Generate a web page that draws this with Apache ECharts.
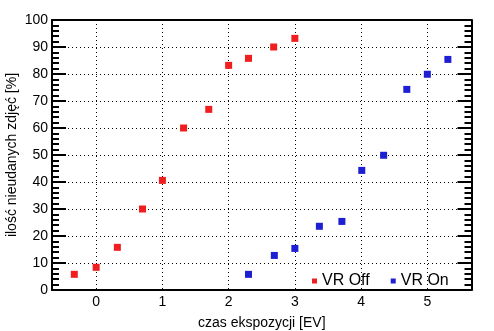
<!DOCTYPE html>
<html><head><meta charset="utf-8">
<script src="https://cdn.jsdelivr.net/npm/echarts@6/dist/echarts.min.js"></script>
<style>html,body{margin:0;padding:0;background:#fff}#c{width:494px;height:331px}</style>
</head><body><div id="c"></div>
<script>
const seriesNames = ['VR Off', 'VR On'];
const vrOffX = [-0.33, 0, 0.32, 0.70, 1.0, 1.32, 1.70, 2.0, 2.30, 2.68, 3.0];
const vrOffY = [5.8, 8.4, 15.8, 30.0, 40.6, 60.0, 66.9, 83.2, 85.8, 90.0, 93.2];
const vrOnX = [2.30, 2.69, 3.0, 3.37, 3.71, 4.01, 4.34, 4.69, 5.0, 5.31];
const vrOnY = [5.8, 12.8, 15.4, 23.6, 25.4, 44.3, 49.9, 74.3, 79.9, 85.4];
const xTickLabels = ['0', '1', '2', '3', '4', '5'];
const xTitle = 'czas ekspozycji [EV]';
const yTitle = 'ilość nieudanych zdjęć [%]';

const font = 'Liberation Sans, Arial, sans-serif';
const zip = (xs, ys) => xs.map((x, i) => [x, ys[i]]);
const chart = echarts.init(document.getElementById('c'));
const dotted = { color: '#000', width: 1, type: [1, 3] };
const yCommon = {
  type: 'value', min: 0, max: 100, interval: 10,
  axisLine: { show: true, onZero: false, lineStyle: { color: '#000', width: 2 } },
  axisTick: { show: true, inside: true, length: 14, lineStyle: { color: '#000', width: 2 } },
  minorTick: { show: true, splitNumber: 5, length: 7, lineStyle: { color: '#000', width: 2 } },
  splitLine: { show: false }
};
chart.setOption({
  animation: false,
  grid: { left: 52, right: 22.5, top: 20, bottom: 41, containLabel: false, outerBoundsMode: 'none' },
  legend: {
    data: seriesNames, left: 307, top: 268, icon: 'rect', itemWidth: 5, itemHeight: 5,
    itemGap: 21, textStyle: { fontFamily: font, fontSize: 16, color: '#000', padding: [0, 0, 0, 0] }
  },
  xAxis: [{
    type: 'value', min: -0.6667, max: 5.6667, splitNumber: 5,
    axisLine: { show: true, onZero: false, lineStyle: { color: '#000', width: 2 } },
    axisTick: { show: false },
    splitLine: { show: true, lineStyle: dotted },
    axisLabel: {
      fontFamily: font, fontSize: 14, color: '#000', margin: 5,
      showMinLabel: false, showMaxLabel: false,
      formatter: v => { const i = Math.round(v); return Math.abs(v - i) < 1e-6 && i >= 0 && i < xTickLabels.length ? xTickLabels[i] : ''; }
    },
    name: xTitle, nameLocation: 'middle', nameGap: 26, nameMoveOverlap: false,
    nameTextStyle: { fontFamily: font, fontSize: 14, color: '#000' }
  }, {
    type: 'value', position: 'top', min: -0.6667, max: 5.6667,
    axisLine: { show: true, onZero: false, lineStyle: { color: '#000', width: 2 } },
    axisTick: { show: false }, axisLabel: { show: false }, splitLine: { show: false }
  }],
  yAxis: [Object.assign({}, yCommon, {
    position: 'left',
    splitLine: { show: true, lineStyle: dotted },
    axisLabel: { fontFamily: font, fontSize: 14, color: '#000', margin: 4 },
    name: yTitle, nameLocation: 'middle', nameGap: 33, nameMoveOverlap: false,
    nameTextStyle: { fontFamily: font, fontSize: 14, color: '#000' }
  }), Object.assign({}, yCommon, {
    position: 'right', axisLabel: { show: false }
  })],
  series: [
    { name: seriesNames[0], type: 'scatter', data: zip(vrOffX, vrOffY), symbol: 'rect', symbolSize: 7,
      itemStyle: { color: '#f01e1e', opacity: 1 } },
    { name: seriesNames[1], type: 'scatter', data: zip(vrOnX, vrOnY), symbol: 'rect', symbolSize: 7,
      itemStyle: { color: '#1e1ed2', opacity: 1 } }
  ]
});
</script></body></html>
